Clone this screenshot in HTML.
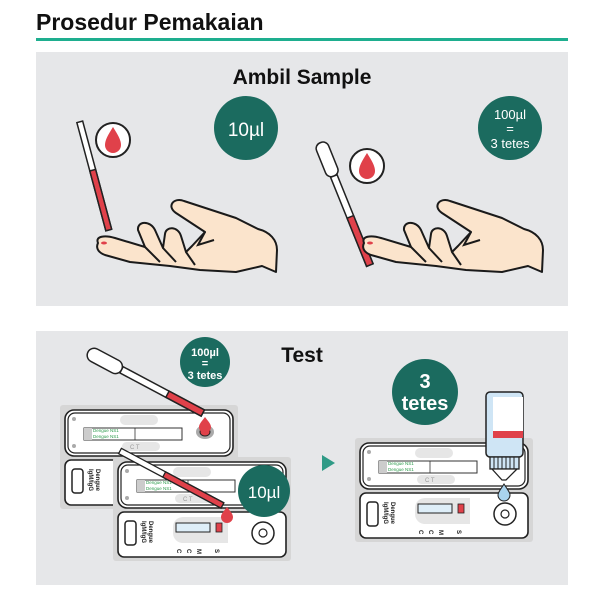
<!DOCTYPE html>
<html><head><meta charset="utf-8"><style>
html,body{margin:0;padding:0;background:#fff;width:600px;height:600px;overflow:hidden}
svg{display:block}
text{font-family:"Liberation Sans",sans-serif}
</style></head><body>
<svg width="600" height="600" viewBox="0 0 600 600" xmlns="http://www.w3.org/2000/svg">
<defs>
<g id="hand">
<path d="M98,243 C95,236 105,235 115,238 L145,247 L138,230 C137,221 150,220 155,230 L163,248 L165,234 C166,226 178,226 181,236 L186,252 L192,246 L205,232 L176,213 C166,206 174,197 184,201 L236,218 L258,229 C270,232 277,240 277,250 L276,272 L262,266 L236,272 L200,270 L170,266 L130,262 L105,255 C97,252 96,247 98,243 Z" fill="#fbe4cc" stroke="#1a1a1a" stroke-width="2" stroke-linejoin="round"/>
<path d="M145,247 L160,262 M163,248 L176,262 M186,252 L195,265 M205,232 L198,245 L214,240" fill="none" stroke="#1a1a1a" stroke-width="2"/>
<ellipse cx="104" cy="243" rx="3" ry="1.5" fill="#e0414a"/>
</g>
<g id="cas">
<rect x="0" y="0" width="178" height="104" rx="3" fill="#d6d6d6"/>
<rect x="5" y="5" width="168" height="46" rx="9" fill="#fff" stroke="#222" stroke-width="1.6"/>
<rect x="8" y="8" width="162" height="40" rx="7" fill="#fff" stroke="#222" stroke-width="1.2"/>
<circle cx="14" cy="14" r="2" fill="#aaa"/><circle cx="14" cy="41" r="2" fill="#aaa"/>
<rect x="60" y="10" width="38" height="10" rx="5" fill="#e6e6e6"/>
<rect x="62" y="37" width="38" height="9" rx="4.5" fill="#e6e6e6"/>
<text x="70" y="44" font-size="6" fill="#999">C  T</text>
<rect x="24" y="23" width="98" height="12" fill="#fff" stroke="#333" stroke-width="1"/>
<rect x="24" y="23" width="8" height="12" fill="#ccc"/>
<text x="33" y="27" font-size="4.5" fill="#2a9a4a">Dengue NS1</text>
<text x="33" y="33" font-size="4.5" fill="#2a9a4a">Dengue NS1</text>
<line x1="75" y1="23" x2="75" y2="35" stroke="#333" stroke-width="0.8"/>
<rect x="5" y="55" width="168" height="45" rx="6" fill="#fff" stroke="#222" stroke-width="1.6"/>
<rect x="12" y="64" width="11" height="24" rx="3" fill="#fff" stroke="#222" stroke-width="1.5"/>
<text transform="translate(36,64) rotate(90)" font-size="6" font-weight="bold" fill="#222">Dengue</text>
<text transform="translate(29,64) rotate(90)" font-size="6" font-weight="bold" fill="#222">IgM/IgG</text>
<path d="M60,70 a10,10 0 0 1 10,-10 h45 v26 h-45 a10,10 0 0 1 -10,-10z" fill="#e6e6e6"/>
<rect x="63" y="66" width="34" height="9" fill="#deeef8" stroke="#222" stroke-width="1"/>
<rect x="103" y="66" width="6" height="9" fill="#e0414a" stroke="#222" stroke-width="0.8"/>
<text transform="translate(64,92) rotate(90)" font-size="6" font-weight="bold" fill="#222">C</text>
<text transform="translate(74,92) rotate(90)" font-size="6" font-weight="bold" fill="#222">C</text>
<text transform="translate(84,92) rotate(90)" font-size="6" font-weight="bold" fill="#222">M</text>
<text transform="translate(102,92) rotate(90)" font-size="6" font-weight="bold" fill="#222">S</text>
<circle cx="150" cy="76" r="11" fill="#fff" stroke="#222" stroke-width="1.5"/>
<circle cx="150" cy="76" r="4" fill="#fff" stroke="#222" stroke-width="1.2"/>
</g>
</defs>

<text x="36" y="30" font-size="23" font-weight="bold" fill="#111">Prosedur Pemakaian</text>
<rect x="36" y="38" width="532" height="3" fill="#1eae8f"/>

<rect x="36" y="52" width="532" height="254" fill="#e6e7e9"/>
<text x="302" y="84" font-size="21" font-weight="bold" fill="#111" text-anchor="middle">Ambil Sample</text>
<circle cx="246" cy="128" r="32" fill="#1b6b5f"/>
<text x="246" y="136" font-size="19" fill="#fff" text-anchor="middle">10µl</text>
<circle cx="510" cy="128" r="32" fill="#1b6b5f"/>
<text x="510" y="119" font-size="13" fill="#fff" text-anchor="middle">100µl</text>
<text x="510" y="133" font-size="13" fill="#fff" text-anchor="middle">=</text>
<text x="510" y="148" font-size="13" fill="#fff" text-anchor="middle">3 tetes</text>

<g transform="rotate(-15 94 175)">
<rect x="91" y="120" width="6" height="112" fill="#fff" stroke="#222" stroke-width="1.5"/>
<rect x="91" y="170" width="6" height="62" fill="#e0414a" stroke="#222" stroke-width="1.5"/>
</g>
<circle cx="113" cy="140" r="17" fill="#fff" stroke="#222" stroke-width="2"/>
<path d="M113,127 C108,135 105,140 105,145 a8,8 0 0 0 16,0 C121,140 118,135 113,127z" fill="#e0414a"/>
<use href="#hand"/>

<g transform="rotate(-22 345 205)">
<rect x="339" y="138" width="13" height="36" rx="6" fill="#fff" stroke="#222" stroke-width="1.5"/>
<rect x="342" y="174" width="7" height="96" fill="#fff" stroke="#222" stroke-width="1.5"/>
<rect x="342" y="218" width="7" height="52" fill="#e0414a" stroke="#222" stroke-width="1.5"/>
</g>
<circle cx="367" cy="166" r="17" fill="#fff" stroke="#222" stroke-width="2"/>
<path d="M367,153 C362,161 359,166 359,171 a8,8 0 0 0 16,0 C375,166 372,161 367,153z" fill="#e0414a"/>
<use href="#hand" transform="translate(266,0)"/>

<rect x="36" y="331" width="532" height="254" fill="#e6e7e9"/>
<text x="302" y="362" font-size="21" font-weight="bold" fill="#111" text-anchor="middle">Test</text>

<use href="#cas" transform="translate(60,405)"/>
<ellipse cx="205" cy="432" rx="9" ry="7" fill="#aaa"/>
<ellipse cx="205" cy="432" rx="5" ry="4" fill="#e0414a" stroke="#222"/>
<path d="M205,417 C202,421 199,424 199,427 a6,6 0 0 0 12,0 C211,424 208,421 205,417z" fill="#e0414a"/>
<g transform="translate(88,352) rotate(28)">
<rect x="0" y="-7" width="38" height="14" rx="7" fill="#fff" stroke="#222" stroke-width="1.5"/>
<rect x="38" y="-3.5" width="92" height="7" fill="#fff" stroke="#222" stroke-width="1.5"/>
<rect x="90" y="-3.5" width="40" height="7" fill="#e0414a" stroke="#222" stroke-width="1.5"/>
</g>
<circle cx="205" cy="362" r="25" fill="#1b6b5f"/>
<text x="205" y="356" font-size="11" font-weight="bold" fill="#fff" text-anchor="middle">100µl</text>
<text x="205" y="367" font-size="11" font-weight="bold" fill="#fff" text-anchor="middle">=</text>
<text x="205" y="379" font-size="11" font-weight="bold" fill="#fff" text-anchor="middle">3 tetes</text>

<use href="#cas" transform="translate(113,457)"/>
<g transform="translate(120,451) rotate(28)">
<rect x="0" y="-3" width="116" height="6" fill="#fff" stroke="#222" stroke-width="1.3"/>
<rect x="50" y="-3" width="66" height="6" fill="#e0414a" stroke="#222" stroke-width="1.3"/>
</g>
<path d="M227,507 C224,511 221,514 221,517 a6,6 0 0 0 12,0 C233,514 230,511 227,507z" fill="#e0414a"/>
<circle cx="264" cy="491" r="26" fill="#1b6b5f"/>
<text x="264" y="498" font-size="17" fill="#fff" text-anchor="middle">10µl</text>

<path d="M322,455 L335,463 L322,471z" fill="#2f9a86"/>

<use href="#cas" transform="translate(355,438)"/>
<circle cx="425" cy="392" r="33" fill="#1b6b5f"/>
<text x="425" y="388" font-size="20" font-weight="bold" fill="#fff" text-anchor="middle">3</text>
<text x="425" y="410" font-size="20" font-weight="bold" fill="#fff" text-anchor="middle">tetes</text>
<rect x="486" y="392" width="37" height="65" rx="4" fill="#cfe5f5" stroke="#222" stroke-width="1.5"/>
<rect x="493" y="397" width="30" height="34" fill="#fff"/>
<rect x="493" y="431" width="30" height="7" fill="#e0414a"/>
<rect x="490" y="457" width="29" height="12" fill="#cfe5f5" stroke="#222" stroke-width="1.3"/>
<path d="M494,457 v12 M498,457 v12 M502,457 v12 M506,457 v12 M510,457 v12 M514,457 v12" stroke="#222" stroke-width="1"/>
<path d="M492,469 L502,480 L506,480 L517,469z" fill="#fff" stroke="#222" stroke-width="1.3"/>
<path d="M504,484 C501,489 498,492 498,495 a6,6 0 0 0 12,0 C510,492 507,489 504,484z" fill="#a9d3ee" stroke="#222" stroke-width="1"/>
</svg>
</body></html>
